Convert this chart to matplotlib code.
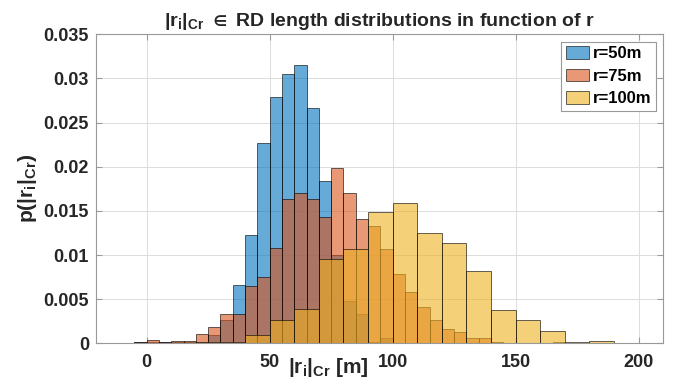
import numpy as np
import matplotlib
matplotlib.use("Agg")
import matplotlib.pyplot as plt

plt.rcParams['font.family'] = ['Liberation Sans', 'DejaVu Sans']
plt.rcParams['font.weight'] = 'bold'
plt.rcParams['mathtext.fontset'] = 'custom'
plt.rcParams['mathtext.rm'] = 'Liberation Sans:bold'
plt.rcParams['mathtext.it'] = 'Liberation Sans:bold'
plt.rcParams['mathtext.bf'] = 'Liberation Sans:bold'
plt.rcParams['mathtext.fallback'] = 'stixsans'
plt.rcParams['mathtext.default'] = 'rm'

# r = 50m, bins of 5 m starting at -10
edges_50 = np.arange(-10, 100, 5)
p_50 = [0.00005, 0.0001, 0.0001, 0.0001, 0.0001, 0.0001, 0.0002, 0.0009,
        0.0026, 0.0066, 0.0123, 0.02265, 0.0279, 0.0305, 0.0315, 0.0267,
        0.0184, 0.0100, 0.0048, 0.0033, 0.0001, 0.0006]

# r = 75m, bins of 5 m starting at -10
edges_75 = np.arange(-10, 170, 5)
p_75 = [0.00005, 0.0001, 0.00035, 0.00015, 0.0003, 0.0003, 0.0011, 0.0018,
        0.0033, 0.0033, 0.00645, 0.0075, 0.0108, 0.0163, 0.0170, 0.0163,
        0.0143, 0.0198, 0.0170, 0.0141, 0.0133, 0.0107, 0.0078, 0.0058,
        0.0041, 0.0026, 0.0016, 0.0013, 0.0006, 0.0006, 0.00015, 0.0,
        0.0, 0.0, 0.0, 0.00015]

# r = 100m, bins of 10 m starting at 20
edges_100 = np.arange(20, 200, 10)
p_100 = [0.0001, 0.0002, 0.0009, 0.0026, 0.00385, 0.0095, 0.0107, 0.0149,
         0.0159, 0.0125, 0.0114, 0.0082, 0.0038, 0.0026, 0.0014, 0.0002,
         0.0003, 0.00003]

labels = ['r=50m', 'r=75m', 'r=100m']
colors = ['#0072BD', '#D95319', '#EDB120']

fig = plt.figure(figsize=(6.78, 3.83), dpi=100)
ax = fig.add_axes([0.1416, 0.1037, 0.8367, 0.8067])

series = [(edges_50, p_50, 5), (edges_75, p_75, 5), (edges_100, p_100, 10)]
for (edges, p, w), lab, col in zip(series, labels, colors):
    ax.bar(edges, p, width=w, align='edge', color=col, alpha=0.6,
           edgecolor='#000000', linewidth=0.7, label=lab, zorder=2)

ax.set_xlim(-20.6, 210)
ax.set_ylim(0, 0.035)
ax.set_xticks([0, 50, 100, 150, 200])
ax.set_yticks(np.arange(0, 0.0351, 0.005))
ax.set_yticklabels(['0', '0.005', '0.01', '0.015', '0.02', '0.025', '0.03', '0.035'])
ax.grid(True, color='#dcdcdc', linewidth=0.7, zorder=0)
ax.set_axisbelow(True)
ax.tick_params(direction='in', length=4, top=True, right=True, colors='#999999',
               labelcolor='#262626', labelsize=13)
ax.tick_params(axis='x', pad=8)
ax.tick_params(axis='y', pad=5)
for s in ax.spines.values():
    s.set_color('#999999')
    s.set_linewidth(0.8)

ax.set_title(r"$|r_i|_{Cr}\ \in$ RD length distributions in function of r",
             fontsize=14, fontweight='bold', color='#262626', pad=6)
ax.set_ylabel(r"p($|r_i|_{Cr}$)", fontsize=15, fontweight='bold', color='#262626')
ax.set_xlabel(r"$|r_i|_{Cr}$ [m]", fontsize=15, fontweight='bold', color='#262626')
ax.xaxis.set_label_coords(0.409, -0.077)
ax.xaxis.label.set_va('center')
ax.yaxis.set_label_coords(-0.1, 0.5)

leg = ax.legend(loc='upper right', fontsize=12, fancybox=False, framealpha=1,
                edgecolor='#999999', handlelength=1.4, handleheight=0.8,
                borderaxespad=0.45, labelspacing=0.45, handletextpad=0.25,
                borderpad=0.25)
leg.get_frame().set_linewidth(0.8)

fig.savefig('out.png', dpi=100, facecolor='white')
